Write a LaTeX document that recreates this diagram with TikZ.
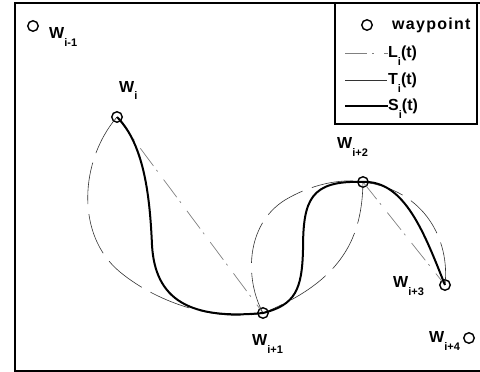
\documentclass[tikz,border=0pt]{standalone}
\usepackage{fontspec}
\setmainfont{Liberation Sans}
\newcommand{\wsub}[1]{\raisebox{-8pt}{\fontsize{11}{11}\selectfont #1}}
\tikzset{
  wpt/.style={circle,draw,line width=1.4pt,minimum size=10.5pt,inner sep=0pt},
  wlabel/.style={anchor=base west,inner sep=0pt,font=\fontsize{16}{16}\selectfont\bfseries},
  lline/.style={gray,line width=0.7pt,dash pattern=on 22pt off 5pt on 2pt off 10pt},
  tline/.style={black!80,line width=0.6pt,dash pattern=on 42pt off 10pt},
  sline/.style={black,line width=2pt},
}
\begin{document}
\begin{tikzpicture}[x=1pt,y=-1pt]
\useasboundingbox (0,0) rectangle (480,372);
% frame and legend
\draw[line width=1.5pt] (484,3) -- (15,3) -- (15,371) -- (484,371);
\draw[line width=1.5pt] (335,3) rectangle (477,124);

% waypoints
\node[wpt] (wim1) at (33,26) {};
\node[wpt] (wi) at (117,117) {};
\node[wpt] (wi1) at (263,313) {};
\node[wpt] (wi2) at (363,182) {};
\node[wpt] (wi3) at (445,285) {};
\node[wpt] (wi4) at (469,338) {};

\node[wlabel] (lbim1) at (49,38) {W\wsub{i-1}};
\node[wlabel] (lbi) at (119,92) {W\wsub{i}};
\node[wlabel] (lbi1) at (252,345) {W\wsub{i+1}};
\node[wlabel] (lbi2) at (337,148) {W\wsub{i+2}};
\node[wlabel] (lbi3) at (393,287) {W\wsub{i+3}};
\node[wlabel] (lbi4) at (429,342) {W\wsub{i+4}};

% L_i(t)
\draw[lline] (wi.center) -- (wi1.center);
\draw[lline] (wi2.center) -- (wi3.center);

% T_i(t)
\draw[tline] (wi.center) .. controls (80,160) and (75,235) .. (120,272)
  .. controls (160,305) and (220,322) .. (wi1.center);
\draw[tline] (wi1.center) .. controls (245,280) and (245,225) .. (285,200)
  .. controls (310,185) and (340,178) .. (wi2.center);
\draw[tline] (wi2.center) .. controls (362,235) and (345,280) .. (wi1.center);
\draw[tline] (wi2.center) .. controls (425,190) and (450,240) .. (wi3.center);

% S_i(t)
\draw[sline] (wi.center) .. controls (145,145) and (150,200) .. (152,245)
  .. controls (155,300) and (190,320) .. (wi1.center);
\draw[sline] (wi1.center) .. controls (295,305) and (302,290) .. (303,250)
  .. controls (303,200) and (310,180) .. (wi2.center);
\draw[sline] (wi2.center) .. controls (405,180) and (425,235) .. (wi3.center);

% legend entries
\node[wpt] (lgW) at (367,25) {};
\node[wlabel] (lgWt) at (392,30) {\addfontfeature{LetterSpace=8}waypoint};
\node[wlabel] (lgL) at (388,57) {L\wsub{i}(t)};
\node[wlabel] (lgT) at (388,84) {T\wsub{i}(t)};
\node[wlabel] (lgS) at (388,110) {S\wsub{i}(t)};
\coordinate (lgLa) at (345,53);
\coordinate (lgTa) at (345,80);
\coordinate (lgSa) at (345,106);
\draw[lline] (lgLa) -- (lgL.west |- lgLa);
\draw[tline] (lgTa) -- (lgT.west |- lgTa);
\draw[sline] (lgSa) -- (lgS.west |- lgSa);
\end{tikzpicture}
\end{document}
